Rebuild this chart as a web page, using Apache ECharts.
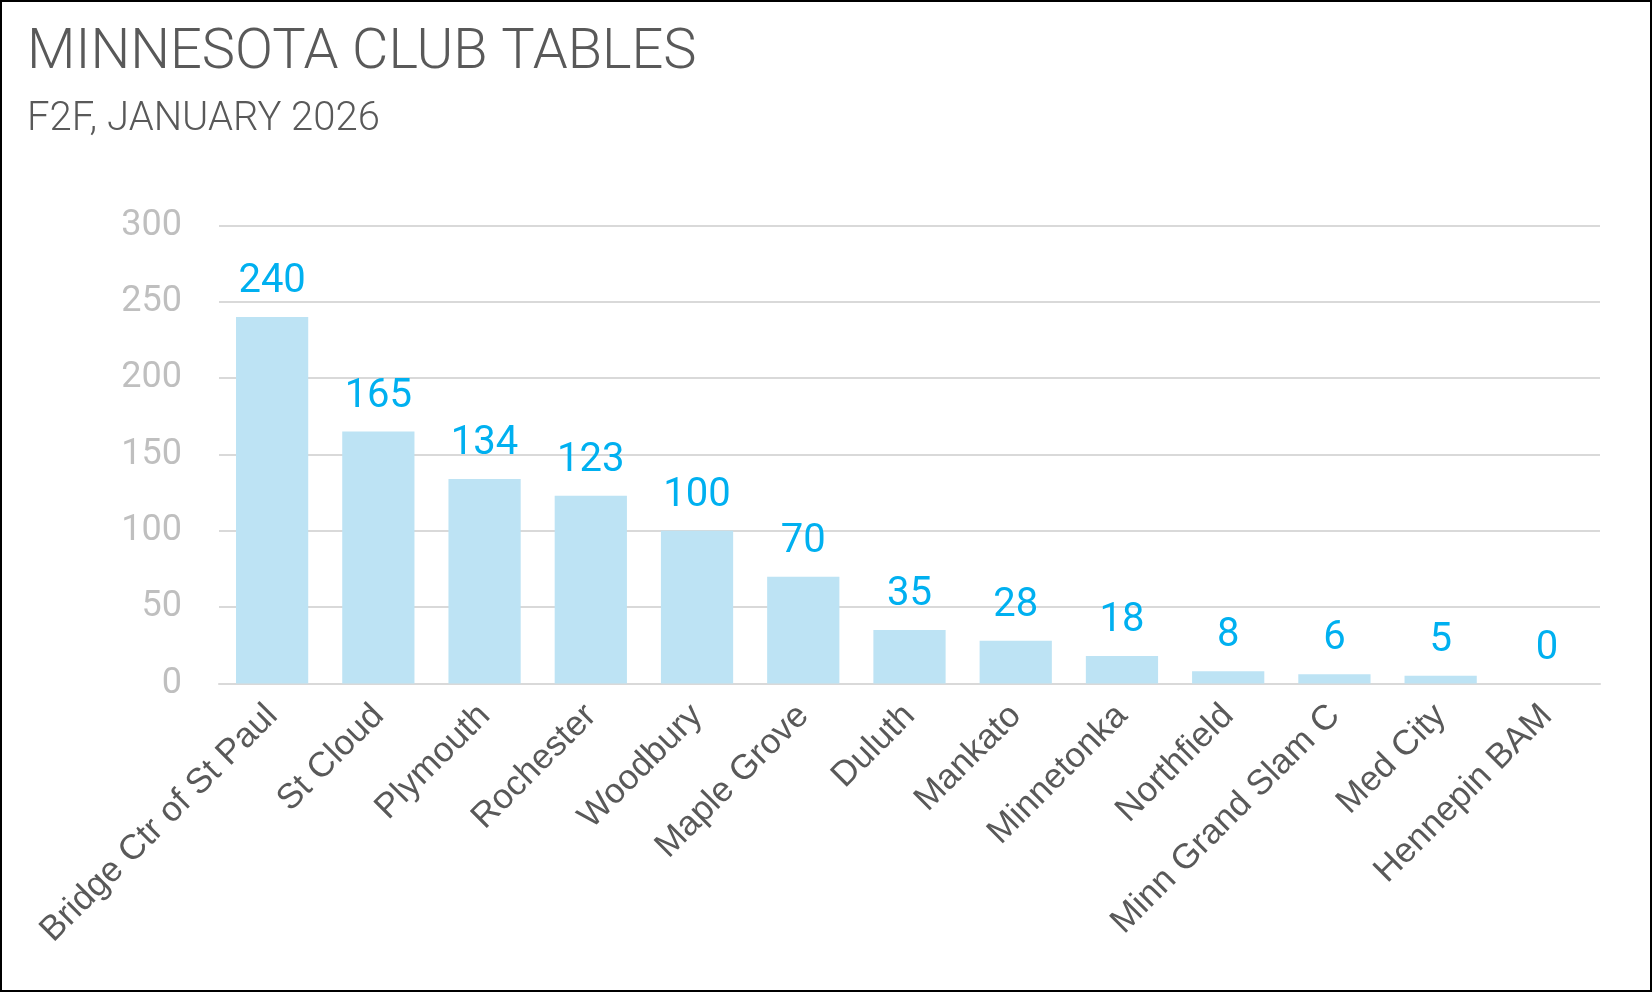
<!DOCTYPE html>
<html>
<head>
<meta charset="utf-8">
<script src="https://cdn.jsdelivr.net/npm/echarts@6/dist/echarts.min.js"></script>
<style>
  html, body { margin: 0; padding: 0; background: #fff; }
  #chart { width: 1652px; height: 992px; box-sizing: border-box; border: 2px solid #000; }
</style>
</head>
<body>
<div id="chart"></div>
<script>
// club names and table counts
var clubs = ['Bridge Ctr of St Paul', 'St Cloud', 'Plymouth', 'Rochester', 'Woodbury', 'Maple Grove',
  'Duluth', 'Mankato', 'Minnetonka', 'Northfield', 'Minn Grand Slam C', 'Med City', 'Hennepin BAM'];
var tables = [240, 165, 134, 123, 100, 70, 35, 28, 18, 8, 6, 5, 0];
var yTicks = [0, 50, 100, 150, 200, 250, 300];

var myChart = echarts.init(document.getElementById('chart'));

var option = {
  animation: false,
  title: {
    text: 'MINNESOTA CLUB TABLES',
    subtext: 'F2F, JANUARY 2026',
    left: 20,
    top: 19,
    itemGap: 18,
    textStyle: { fontFamily: 'Roboto', fontWeight: 300, fontSize: 56, color: '#595959' },
    subtextStyle: { fontFamily: 'Roboto', fontWeight: 300, fontSize: 40, color: '#595959' }
  },
  grid: { left: 217, right: 50, top: 223.5, bottom: 306.5 },
  xAxis: {
    type: 'category',
    data: clubs,
    axisTick: { show: false },
    axisLine: { lineStyle: { color: '#d9d9d9', width: 2 } },
    axisLabel: {
      interval: 0,
      rotate: 45,
      margin: 27,
      fontFamily: 'Liberation Sans',
      fontSize: 35,
      color: '#595959'
    }
  },
  yAxis: {
    type: 'value',
    min: yTicks[0],
    max: yTicks[yTicks.length - 1],
    interval: 50,
    axisLine: { show: false },
    axisTick: { show: false },
    splitLine: { lineStyle: { color: '#d9d9d9', width: 2 } },
    axisLabel: { margin: 37, fontFamily: 'Roboto', fontSize: 36, color: '#bfbfbf' }
  },
  series: [{
    type: 'bar',
    data: tables,
    barWidth: '68%',
    itemStyle: { color: '#bde3f4' },
    label: {
      show: true,
      position: 'top',
      distance: 15,
      fontFamily: 'Roboto',
      fontSize: 40,
      color: '#00b0f0'
    }
  }]
};

myChart.setOption(option);
</script>
</body>
</html>
